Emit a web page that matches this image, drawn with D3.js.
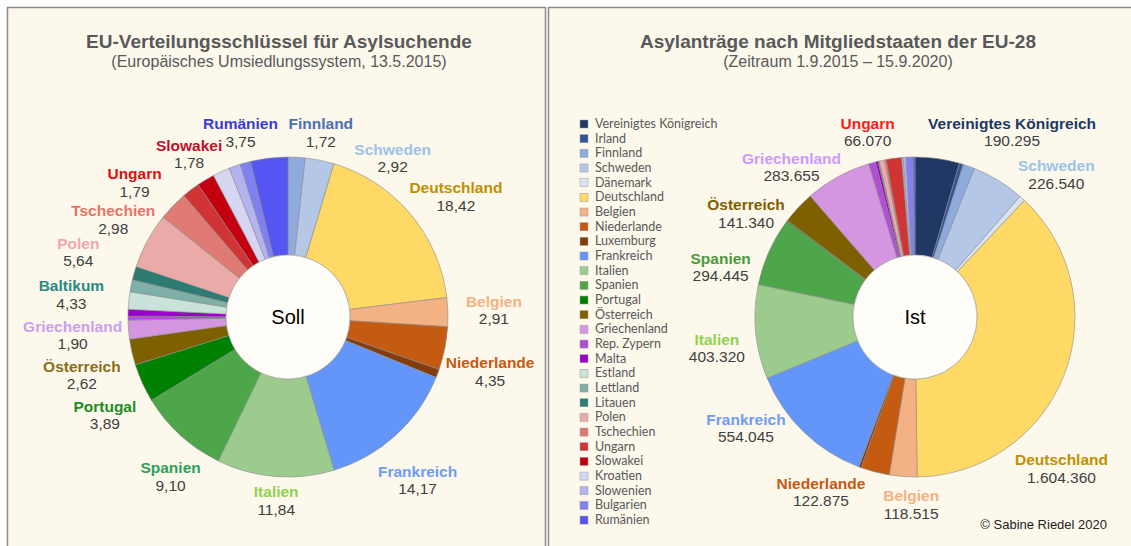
<!DOCTYPE html>
<html>
<head>
<meta charset="utf-8">
<script src="https://cdn.jsdelivr.net/npm/d3@7"></script>
<style>
body { margin: 0; background: #fff; }
svg { display: block; font-family: "Liberation Sans", Arial, sans-serif; }
</style>
</head>
<body>
<div id="chart"></div>
<script>
// Mitgliedstaaten in Legendenreihenfolge
var countries = ['Vereinigtes Königreich', 'Irland', 'Finnland', 'Schweden', 'Dänemark', 'Deutschland',
	'Belgien', 'Niederlande', 'Luxemburg', 'Frankreich', 'Italien', 'Spanien', 'Portugal', 'Österreich',
	'Griechenland', 'Rep. Zypern', 'Malta', 'Estland', 'Lettland', 'Litauen', 'Polen', 'Tschechien',
	'Ungarn', 'Slowakei', 'Kroatien', 'Slowenien', 'Bulgarien', 'Rumänien'];

var colors = ['#203864', '#2f5597', '#8faadc', '#b4c7e7', '#dae3f3', '#ffd966',
	'#f4b183', '#c55a11', '#843c0c', '#6495f8', '#9ccb8e', '#4ea64a', '#008000', '#7f6000',
	'#d496e0', '#b24ed6', '#9900cc', '#c9e2da', '#7fb0a8', '#2e7b72', '#eaaaa8', '#e07a74',
	'#d03434', '#c40010', '#d6d6f2', '#b3b3f0', '#8080f2', '#5555f2'];

// Verteilungsschlüssel in % (UK, Irland, Dänemark nicht beteiligt)
var sollValues = [0, 0, 1.72, 2.92, 0, 18.42,
	2.91, 4.35, 0.85, 14.17, 11.84, 9.10, 3.89, 2.62,
	1.90, 0.39, 0.69, 1.76, 1.21, 1.36, 5.64, 2.98,
	1.79, 1.78, 1.73, 1.15, 1.08, 3.75];

// Asylanträge 1.9.2015 - 15.9.2020
var istValues = [190295, 17000, 50000, 226540, 25000, 1604360,
	118515, 122875, 10000, 554045, 403320, 294445, 5000, 141340,
	283655, 30000, 11000, 600, 1200, 2500, 24000, 6500,
	66070, 900, 5500, 12000, 30000, 8000];

var sollLabels = ['Rumänien', 'Finnland', 'Schweden', 'Deutschland', 'Belgien', 'Niederlande', 'Frankreich',
	'Italien', 'Spanien', 'Portugal', 'Österreich', 'Griechenland', 'Baltikum', 'Polen', 'Tschechien',
	'Ungarn', 'Slowakei'];
var istLabels = ['Ungarn', 'Vereinigtes Königreich', 'Schweden', 'Deutschland', 'Belgien', 'Niederlande',
	'Frankreich', 'Italien', 'Spanien', 'Österreich', 'Griechenland'];
var labelGroups = { 'Baltikum': ['Estland', 'Lettland', 'Litauen'] };

// Beschriftungsfarben
var sollLabelColor = {
	'Rumänien': '#3a3ae0', 'Finnland': '#4a6fb0', 'Schweden': '#9dc3e6', 'Deutschland': '#bf9000',
	'Belgien': '#f4b183', 'Niederlande': '#c55a11', 'Frankreich': '#6f9cf5', 'Italien': '#92d050',
	'Spanien': '#2ea05a', 'Portugal': '#1e8c1e', 'Österreich': '#8a6d1a', 'Griechenland': '#c9a0f0',
	'Baltikum': '#2a8a80', 'Polen': '#f4a6ae', 'Tschechien': '#e87468', 'Ungarn': '#e01010',
	'Slowakei': '#c0102a'
};
var istLabelColor = {
	'Ungarn': '#ff1a1a', 'Vereinigtes Königreich': '#1f3864', 'Schweden': '#9dc3e6',
	'Deutschland': '#bf9000', 'Belgien': '#f4b183', 'Niederlande': '#c55a11', 'Frankreich': '#6f9cf5',
	'Italien': '#92d050', 'Spanien': '#4a9a3a', 'Österreich': '#7f6000', 'Griechenland': '#cc99ff'
};

// Verschiebung der Beschriftung gegenüber dem Punkt auf Radius 200
var sollNudge = {
	'Rumänien': [-24, 15], 'Finnland': [22, 16], 'Schweden': [65, 38], 'Deutschland': [15, 9],
	'Belgien': [6, 0], 'Niederlande': [6, 16], 'Frankreich': [-5, 16], 'Italien': [4, -15],
	'Spanien': [17, 12], 'Portugal': [-1, 16], 'Österreich': [-11, 15], 'Griechenland': [-16, 3],
	'Baltikum': [-20, 15], 'Polen': [-34, 31], 'Tschechien': [-31, 42], 'Ungarn': [-32, 25],
	'Slowakei': [4, 9]
};
var istNudge = {
	'Ungarn': [-21, 14], 'Vereinigtes Königreich': [69, 14], 'Schweden': [37, 29], 'Deutschland': [-40, 80],
	'Belgien': [11, -11], 'Niederlande': [-44, -18], 'Frankreich': [-30, -32], 'Italien': [1, 13],
	'Spanien': [-12, 33], 'Österreich': [-23, 34], 'Griechenland': [-27, 26]
};

var de = d3.formatLocale({ decimal: ',', thousands: '.', grouping: [3], currency: ['', ' €'] });
var fmtSoll = de.format('.2f');
var fmtIst = de.format(',d');

var width = 1131, height = 546;
var bg = '#fcf8ec';

var svg = d3.select('#chart')
	.append('svg')
	.attr('width', width)
	.attr('height', height);

svg.append('rect').attr('width', width).attr('height', height).attr('fill', '#fff');

// Panels
svg.append('rect')
	.attr('x', 7.5).attr('y', 7.5).attr('width', 538).attr('height', 560)
	.attr('fill', bg).attr('stroke', '#8a8a8a').attr('stroke-width', 1.5);
svg.append('rect')
	.attr('x', 548.5).attr('y', 7.5).attr('width', 600).attr('height', 560)
	.attr('fill', bg).attr('stroke', '#8a8a8a').attr('stroke-width', 1.5);

// Titel
function title(x, main, sub) {
	svg.append('text')
		.attr('x', x).attr('y', 48)
		.attr('text-anchor', 'middle')
		.attr('font-size', 19).attr('font-weight', 'bold')
		.attr('fill', '#595959')
		.text(main);
	svg.append('text')
		.attr('x', x).attr('y', 67)
		.attr('text-anchor', 'middle')
		.attr('font-size', 16)
		.attr('fill', '#595959')
		.text(sub);
}
title(279, 'EU-Verteilungsschlüssel für Asylsuchende', '(Europäisches Umsiedlungssystem, 13.5.2015)');
title(838, 'Asylanträge nach Mitgliedstaaten der EU-28', '(Zeitraum 1.9.2015 – 15.9.2020)');

var outerR = 160, innerR = 62, labelR = 200;

function donut(cx, cy, values, labels, labelColor, nudge, format, centerText) {
	var data = countries.map(function(c, i) {
		return { name: c, value: values[i], color: colors[i] };
	}).filter(function(d) { return d.value > 0; });

	var arcs = d3.pie()
		.sort(null)
		.value(function(d) { return d.value; })(data);

	var arc = d3.arc().innerRadius(innerR).outerRadius(outerR);

	var g = svg.append('g').attr('transform', 'translate(' + cx + ',' + cy + ')');

	g.selectAll('path')
		.data(arcs)
		.enter()
		.append('path')
		.attr('d', arc)
		.attr('fill', function(d) { return d.data.color; })
		.attr('stroke', '#8c8c8c')
		.attr('stroke-width', 0.6);

	g.append('circle')
		.attr('r', innerR)
		.attr('fill', '#fffdf7')
		.attr('stroke', '#a0a0a0')
		.attr('stroke-width', 0.6);

	g.append('text')
		.attr('y', 7)
		.attr('text-anchor', 'middle')
		.attr('font-size', 20)
		.attr('fill', '#000')
		.text(centerText);

	labels.forEach(function(name) {
		var members = labelGroups[name] || [name];
		var sel = arcs.filter(function(a) { return members.indexOf(a.data.name) >= 0; });
		var mid = (sel[0].startAngle + sel[sel.length - 1].endAngle) / 2;
		var total = d3.sum(sel, function(a) { return a.data.value; });
		var x = Math.sin(mid) * labelR + nudge[name][0];
		var y = -Math.cos(mid) * labelR + nudge[name][1];

		g.append('text')
			.attr('x', x).attr('y', y - 4)
			.attr('text-anchor', 'middle')
			.attr('font-size', 15.5).attr('font-weight', 'bold')
			.attr('fill', labelColor[name])
			.text(name);
		g.append('text')
			.attr('x', x).attr('y', y + 13.5)
			.attr('text-anchor', 'middle')
			.attr('font-size', 15.5)
			.attr('fill', '#404040')
			.text(format(total));
	});
}

donut(288, 317, sollValues, sollLabels, sollLabelColor, sollNudge, fmtSoll, 'Soll');
donut(915, 317, istValues, istLabels, istLabelColor, istNudge, fmtIst, 'Ist');

// Legende
var legend = svg.append('g')
	.attr('transform', 'translate(580,124)')
	.selectAll('g')
	.data(countries)
	.enter()
	.append('g')
	.attr('transform', function(d, i) { return 'translate(0,' + (i * 14.67) + ')'; });

legend.append('rect')
	.attr('x', 0).attr('y', -4)
	.attr('width', 8).attr('height', 8)
	.attr('fill', function(d, i) { return colors[i]; })
	.attr('stroke', '#9a9a9a')
	.attr('stroke-width', 0.5);

legend.append('text')
	.attr('x', 15).attr('y', 4)
	.attr('font-family', 'Lato, sans-serif')
	.attr('font-size', 12.5)
	.attr('fill', '#595959')
	.text(function(d) { return d; });

svg.append('text')
	.attr('x', 1107).attr('y', 529)
	.attr('text-anchor', 'end')
	.attr('font-size', 13)
	.attr('fill', '#222')
	.text('© Sabine Riedel 2020');
</script>
</body>
</html>
